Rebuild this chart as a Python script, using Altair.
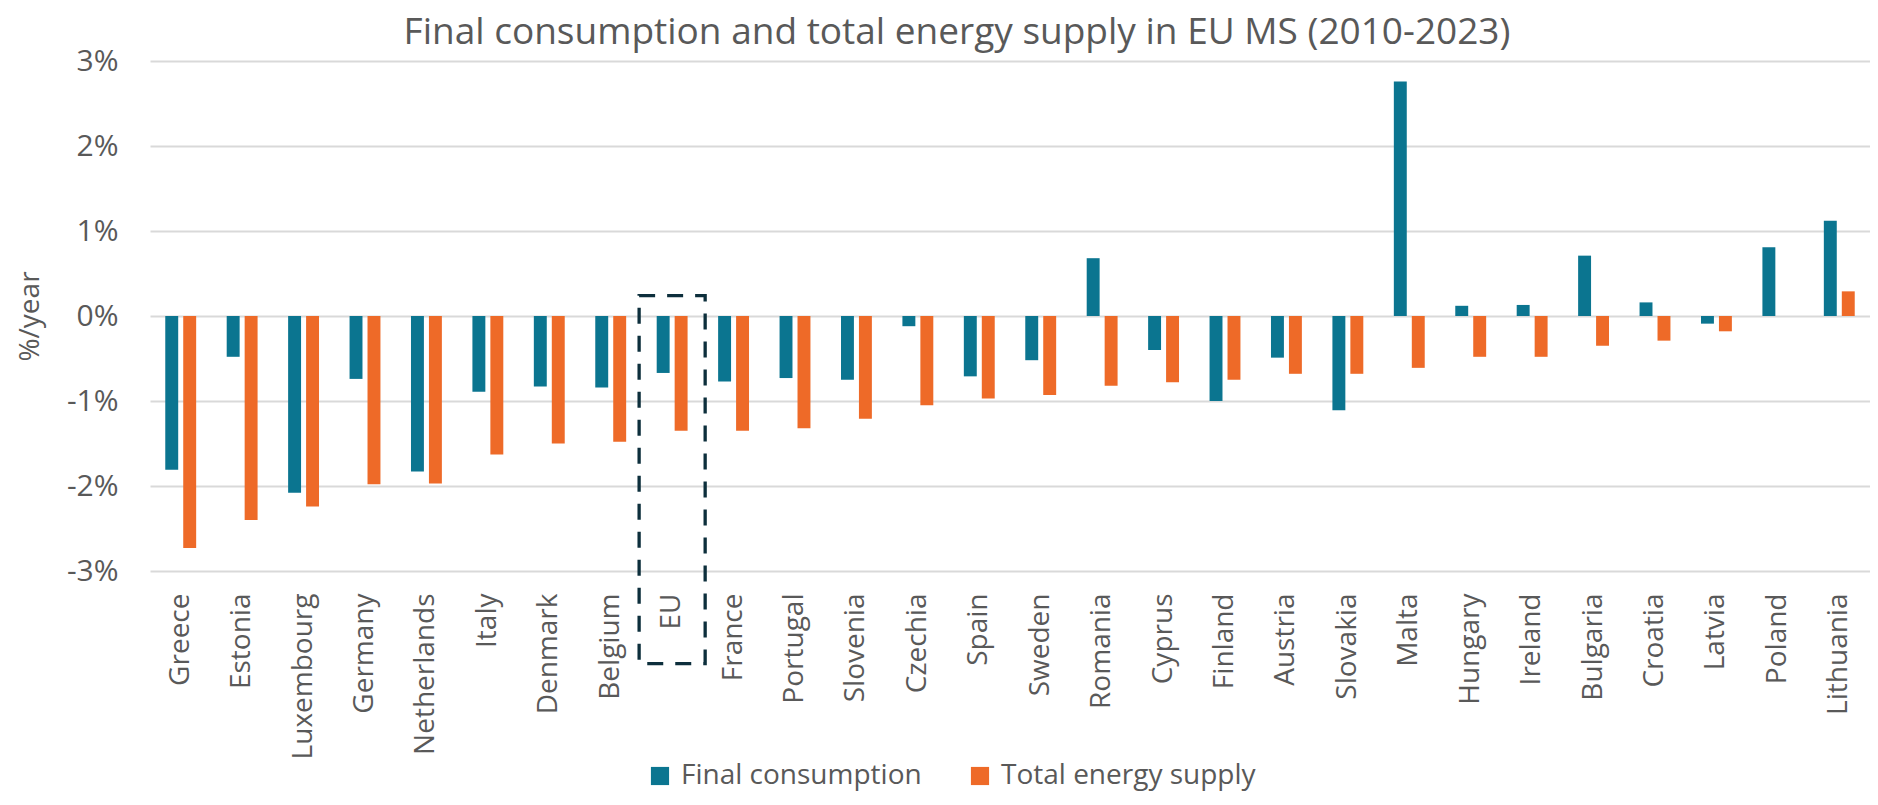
import altair as alt
import pandas as pd

countries = ["Greece", "Estonia", "Luxembourg", "Germany", "Netherlands", "Italy",
             "Denmark", "Belgium", "EU", "France", "Portugal", "Slovenia", "Czechia",
             "Spain", "Sweden", "Romania", "Cyprus", "Finland", "Austria", "Slovakia",
             "Malta", "Hungary", "Ireland", "Bulgaria", "Croatia", "Latvia", "Poland",
             "Lithuania"]
final_consumption = [-1.81, -0.48, -2.08, -0.74, -1.83, -0.89, -0.83, -0.84, -0.67,
                     -0.77, -0.73, -0.75, -0.12, -0.71, -0.52, 0.68, -0.40, -1.00,
                     -0.49, -1.11, 2.76, 0.12, 0.13, 0.71, 0.16, -0.09, 0.81, 1.12]
total_energy_supply = [-2.73, -2.40, -2.24, -1.98, -1.97, -1.63, -1.50, -1.48, -1.35,
                       -1.35, -1.32, -1.21, -1.05, -0.97, -0.93, -0.82, -0.78, -0.75,
                       -0.68, -0.68, -0.61, -0.48, -0.48, -0.35, -0.29, -0.18, 0.0, 0.29]
series = ["Final consumption", "Total energy supply"]
colors = ["#0b7590", "#ee6a28"]
y_ticks = [-3, -2, -1, 0, 1, 2, 3]

# highlight box around the EU aggregate (in %/year units)
highlight = ["EU"]
highlight_top = [0.24]
highlight_bottom = [-4.09]

rows = []
for c, f, t in zip(countries, final_consumption, total_energy_supply):
    rows.append({"country": c, "series": series[0], "value": f})
    rows.append({"country": c, "series": series[1], "value": t})
df = pd.DataFrame(rows)
box_df = pd.DataFrame({"country": highlight, "top": highlight_top, "bottom": highlight_bottom})

FONT = "Open Sans"
GREY = "#595959"

x_enc = alt.X("country:N", sort=countries, title=None,
              scale=alt.Scale(paddingInner=0, paddingOuter=0),
              axis=alt.Axis(labelAngle=270, labelFontSize=28, labelColor=GREY,
                            labelFont=FONT, labelPadding=22, ticks=False,
                            domain=False, grid=False))

bars = alt.Chart(df).mark_bar().encode(
    x=x_enc,
    xOffset=alt.XOffset("series:N", sort=series,
                        scale=alt.Scale(paddingInner=0.28, paddingOuter=0.85)),
    y=alt.Y("value:Q", title="%/year",
            scale=alt.Scale(domain=[-3, 3], nice=False),
            axis=alt.Axis(values=y_ticks, labelExpr="datum.value + '%'",
                          labelFontSize=30, labelColor=GREY, labelFont=FONT,
                          labelPadding=32, ticks=False, domain=False,
                          grid=True, gridColor="#d9d9d9", gridWidth=2,
                          titleFontSize=28, titleColor=GREY, titleFont=FONT,
                          titleFontWeight="normal", titleAngle=270,
                          titleX=-120, titleY=255, titleAlign="center",
                          titleBaseline="middle")),
    color=alt.Color("series:N", sort=series,
                    scale=alt.Scale(domain=series, range=colors),
                    legend=alt.Legend(title=None, orient="none", direction="horizontal",
                                      legendX=496, legendY=701,
                                      symbolType="square", symbolSize=330,
                                      symbolStrokeWidth=0, labelFontSize=28,
                                      labelFont=FONT, labelColor=GREY,
                                      labelOffset=7, columnPadding=44,
                                      labelLimit=400)),
)

box = alt.Chart(box_df).mark_rect(
    fillOpacity=0, stroke="#0d2f3c", strokeWidth=3.3, strokeDash=[16, 12],
    width=alt.RelativeBandSize(1.075)
).encode(
    x=alt.X("country:N", sort=countries),
    y="top:Q",
    y2="bottom:Q",
)

chart = alt.layer(bars, box).properties(
    width=1720,
    height=510,
    autosize=alt.AutoSizeParams(type="none"),
    padding={"left": 142, "top": 53, "right": 0, "bottom": 226},
    title=alt.Title("Final consumption and total energy supply in EU MS (2010-2023)",
                    fontSize=37, font=FONT, color=GREY, fontWeight="normal",
                    anchor="middle", frame="group", dx=-53, dy=16, offset=10),
).configure_view(stroke=None)

chart.save("out.html", embed_options={"renderer": "svg", "actions": False})
